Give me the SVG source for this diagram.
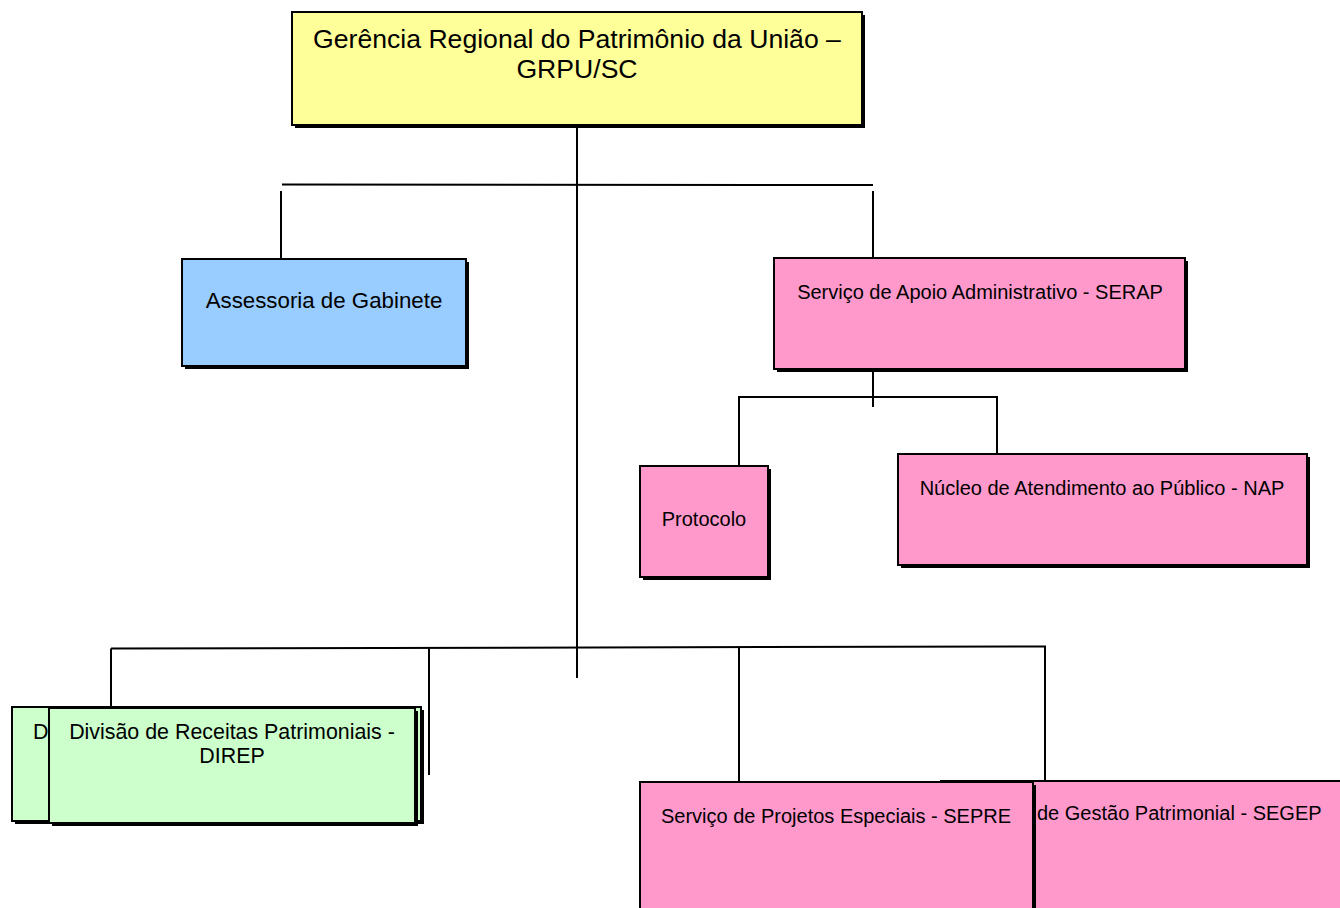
<svg xmlns="http://www.w3.org/2000/svg" width="1340" height="908" viewBox="0 0 1340 908">
<style>
.sh{fill:#000}
.bx{stroke:#000;stroke-width:2}
.y{fill:#FFFF99}.b{fill:#99CCFF}.p{fill:#FF99CC}.g{fill:#CCFFCC}
text{font-family:"Liberation Sans",Arial,sans-serif;fill:#000}
.c{text-anchor:middle}
.ln{stroke:#000;stroke-width:2;fill:none}
</style>
<rect width="1340" height="908" fill="#fff"/>
<g id="connectors">
<line class="ln" x1="577" y1="125" x2="577" y2="678"/>
<line class="ln" x1="282" y1="184.5" x2="873" y2="185"/>
<line class="ln" x1="281" y1="191" x2="281" y2="259"/>
<line class="ln" x1="873" y1="191" x2="873" y2="258"/>
<line class="ln" x1="873" y1="370" x2="873" y2="407"/>
<polyline class="ln" points="739,465 739,397 997,397 997,454"/>
<line class="ln" x1="111" y1="648.5" x2="1046" y2="646.5"/>
<line class="ln" x1="111" y1="648.5" x2="111" y2="707"/>
<line class="ln" x1="429" y1="648.5" x2="429" y2="775"/>
<line class="ln" x1="739" y1="648" x2="739" y2="781"/>
<line class="ln" x1="1045" y1="647" x2="1045" y2="780"/>
</g>
<g id="grpu">
<rect class="sh" x="295" y="15" width="570" height="113"/>
<rect class="bx y" x="292" y="12" width="570" height="113"/>
<text class="c" x="577" y="48" font-size="26.6">Gerência Regional do Patrimônio da União –</text>
<text class="c" x="577" y="78" font-size="26.6">GRPU/SC</text>
</g>
<g id="assessoria">
<rect class="sh" x="185" y="262" width="284" height="107"/>
<rect class="bx b" x="182" y="259" width="284" height="107"/>
<text class="c" x="324" y="308" font-size="22.3">Assessoria de Gabinete</text>
</g>
<g id="serap">
<rect class="sh" x="777" y="261" width="411" height="111"/>
<rect class="bx p" x="774" y="258" width="411" height="111"/>
<text class="c" x="980" y="299" font-size="20">Serviço de Apoio Administrativo - SERAP</text>
</g>
<g id="protocolo">
<rect class="sh" x="643" y="469" width="128" height="111"/>
<rect class="bx p" x="640" y="466" width="128" height="111"/>
<text class="c" x="704" y="526" font-size="20">Protocolo</text>
</g>
<g id="nap">
<rect class="sh" x="901" y="457" width="409" height="111"/>
<rect class="bx p" x="898" y="454" width="409" height="111"/>
<text class="c" x="1102" y="495" font-size="20">Núcleo de Atendimento ao Público - NAP</text>
</g>
<g id="direp-back">
<rect class="sh" x="15" y="710" width="409" height="114"/>
<rect class="bx g" x="12" y="707" width="409" height="114"/>
<text x="33" y="739" font-size="21.4">D</text>
</g>
<g id="direp">
<rect class="sh" x="52" y="711" width="366" height="115"/>
<rect class="bx g" x="49" y="708" width="366" height="115"/>
<text class="c" x="232" y="739" font-size="21.4">Divisão de Receitas Patrimoniais -</text>
<text class="c" x="232" y="763" font-size="21.4">DIREP</text>
</g>
<g id="segep">
<rect class="sh" x="944" y="784" width="402" height="130"/>
<rect class="bx p" x="941" y="781" width="402" height="130"/>
<text x="1037" y="820" font-size="20">de Gestão Patrimonial - SEGEP</text>
</g>
<g id="sepre">
<rect class="sh" x="643" y="785" width="393" height="130"/>
<rect class="bx p" x="640" y="782" width="393" height="130"/>
<text class="c" x="836" y="823" font-size="20">Serviço de Projetos Especiais - SEPRE</text>
</g>
</svg>
